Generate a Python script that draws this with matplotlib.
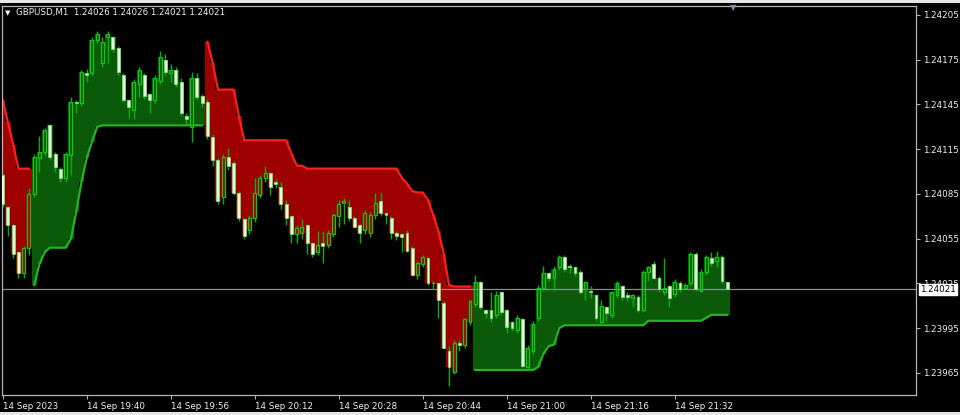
import matplotlib
matplotlib.use("Agg")
import matplotlib.pyplot as plt
import numpy as np
from matplotlib.patches import Rectangle

SYMBOL = "GBPUSD,M1"
LAST_BAR = "1.24026 1.24026 1.24021 1.24021"
LAST_PRICE = 1.24021

X_LABEL_BARS = [0, 16, 32, 48, 64, 80, 96, 112, 128]
X_LABELS = ["14 Sep 2023", "14 Sep 19:40", "14 Sep 19:56", "14 Sep 20:12", "14 Sep 20:28",
            "14 Sep 20:44", "14 Sep 21:00", "14 Sep 21:16", "14 Sep 21:32"]
Y_TICKS = [1.23965, 1.23995, 1.24025, 1.24055, 1.24085, 1.24115, 1.24145, 1.24175, 1.24205]

# M1 bars, 19:24 .. 21:42
open_ = [
    1.24098, 1.24076, 1.24064, 1.24046, 1.24032, 1.24049, 1.24085, 1.24109, 1.24113, 1.24131,
    1.24112, 1.24102, 1.24096, 1.24111, 1.24147, 1.24146, 1.24166, 1.24166, 1.24188, 1.24173,
    1.24190, 1.24190, 1.24183, 1.24165, 1.24148, 1.24141, 1.24159, 1.24165, 1.24152, 1.24148,
    1.24161, 1.24175, 1.24166, 1.24168, 1.24160, 1.24137, 1.24130, 1.24163, 1.24151, 1.24147,
    1.24123, 1.24108, 1.24083, 1.24110, 1.24106, 1.24086, 1.24068, 1.24061, 1.24069, 1.24084,
    1.24096, 1.24099, 1.24093, 1.24090, 1.24078, 1.24070, 1.24058, 1.24059, 1.24064, 1.24052,
    1.24046, 1.24052, 1.24051, 1.24058, 1.24070, 1.24079, 1.24076, 1.24069, 1.24064, 1.24061,
    1.24059, 1.24071, 1.24080, 1.24072, 1.24069, 1.24059, 1.24058, 1.24059, 1.24049, 1.24031,
    1.24038, 1.24042, 1.24025, 1.24025, 1.24012, 1.23980, 1.23966, 1.23985, 1.23984, 1.23999,
    1.24011, 1.24026, 1.24007, 1.24007, 1.24004, 1.24019, 1.24007, 1.23999, 1.23994, 1.24001,
    1.23969, 1.23980, 1.24002, 1.24022, 1.24032, 1.24029, 1.24036, 1.24043, 1.24037, 1.24036,
    1.24033, 1.24021, 1.24020, 1.24017, 1.23999, 1.24009, 1.24004, 1.24017, 1.24023, 1.24017,
    1.24015, 1.24016, 1.24007, 1.24033, 1.24038, 1.24029, 1.24019, 1.24023, 1.24018, 1.24025,
    1.24022, 1.24025, 1.24045, 1.24020, 1.24033, 1.24042, 1.24040, 1.24043, 1.24026,
]
high = [
    1.24099, 1.24077, 1.24065, 1.24047, 1.24050, 1.24089, 1.24112, 1.24124, 1.24129, 1.24132,
    1.24113, 1.24103, 1.24113, 1.24150, 1.24148, 1.24168, 1.24169, 1.24190, 1.24194, 1.24190,
    1.24194, 1.24191, 1.24184, 1.24166, 1.24149, 1.24162, 1.24170, 1.24166, 1.24153, 1.24165,
    1.24181, 1.24179, 1.24172, 1.24170, 1.24163, 1.24139, 1.24167, 1.24166, 1.24152, 1.24149,
    1.24125, 1.24109, 1.24112, 1.24116, 1.24107, 1.24087, 1.24069, 1.24071, 1.24096, 1.24098,
    1.24104, 1.24100, 1.24095, 1.24093, 1.24081, 1.24071, 1.24064, 1.24068, 1.24065, 1.24053,
    1.24060, 1.24060, 1.24061, 1.24072, 1.24081, 1.24082, 1.24081, 1.24070, 1.24065, 1.24074,
    1.24073, 1.24086, 1.24086, 1.24073, 1.24070, 1.24060, 1.24059, 1.24061, 1.24050, 1.24040,
    1.24044, 1.24043, 1.24027, 1.24026, 1.24013, 1.23983, 1.23987, 1.23987, 1.24002, 1.24014,
    1.24031, 1.24027, 1.24008, 1.24019, 1.24020, 1.24020, 1.24008, 1.24000, 1.24004, 1.24002,
    1.23984, 1.24000, 1.24024, 1.24037, 1.24033, 1.24037, 1.24044, 1.24044, 1.24038, 1.24037,
    1.24034, 1.24027, 1.24023, 1.24018, 1.24014, 1.24010, 1.24020, 1.24027, 1.24024, 1.24019,
    1.24018, 1.24017, 1.24034, 1.24037, 1.24040, 1.24030, 1.24042, 1.24024, 1.24028, 1.24027,
    1.24025, 1.24046, 1.24046, 1.24035, 1.24044, 1.24046, 1.24047, 1.24044, 1.24026,
]
low = [
    1.24076, 1.24057, 1.24042, 1.24029, 1.24029, 1.24044, 1.24083, 1.24100, 1.24111, 1.24108,
    1.24100, 1.24093, 1.24093, 1.24098, 1.24139, 1.24144, 1.24160, 1.24164, 1.24186, 1.24170,
    1.24173, 1.24180, 1.24165, 1.24147, 1.24136, 1.24135, 1.24150, 1.24149, 1.24139, 1.24146,
    1.24159, 1.24165, 1.24160, 1.24157, 1.24137, 1.24132, 1.24120, 1.24148, 1.24143, 1.24122,
    1.24104, 1.24078, 1.24078, 1.24101, 1.24084, 1.24067, 1.24055, 1.24058, 1.24066, 1.24082,
    1.24093, 1.24084, 1.24089, 1.24075, 1.24064, 1.24052, 1.24052, 1.24055, 1.24045, 1.24043,
    1.24044, 1.24039, 1.24049, 1.24056, 1.24063, 1.24065, 1.24067, 1.24062, 1.24052, 1.24058,
    1.24056, 1.24068, 1.24070, 1.24065, 1.24055, 1.24054, 1.24046, 1.24046, 1.24030, 1.24028,
    1.24036, 1.24024, 1.24021, 1.24002, 1.23981, 1.23956, 1.23964, 1.23980, 1.23982, 1.23997,
    1.24009, 1.24008, 1.24002, 1.23999, 1.24002, 1.24004, 1.23992, 1.23993, 1.23992, 1.23969,
    1.23967, 1.23978, 1.24000, 1.24020, 1.24027, 1.24020, 1.24034, 1.24033, 1.24032, 1.24030,
    1.24018, 1.24014, 1.24015, 1.24000, 1.23997, 1.24000, 1.24002, 1.24015, 1.24014, 1.24013,
    1.24009, 1.24006, 1.24006, 1.24027, 1.24028, 1.24019, 1.24017, 1.24009, 1.24016, 1.24019,
    1.24021, 1.24023, 1.24020, 1.24019, 1.24031, 1.24037, 1.24036, 1.24025, 1.24021,
]
close = [
    1.24078, 1.24064, 1.24045, 1.24032, 1.24049, 1.24085, 1.24110, 1.24113, 1.24128, 1.24110,
    1.24103, 1.24096, 1.24112, 1.24147, 1.24146, 1.24167, 1.24165, 1.24188, 1.24192, 1.24187,
    1.24192, 1.24182, 1.24167, 1.24148, 1.24143, 1.24160, 1.24168, 1.24151, 1.24148, 1.24163,
    1.24177, 1.24167, 1.24168, 1.24159, 1.24139, 1.24135, 1.24163, 1.24150, 1.24146, 1.24124,
    1.24108, 1.24080, 1.24110, 1.24104, 1.24086, 1.24069, 1.24057, 1.24069, 1.24086, 1.24096,
    1.24099, 1.24090, 1.24092, 1.24078, 1.24069, 1.24058, 1.24062, 1.24063, 1.24052, 1.24045,
    1.24051, 1.24050, 1.24059, 1.24071, 1.24078, 1.24080, 1.24069, 1.24063, 1.24059, 1.24072,
    1.24071, 1.24079, 1.24072, 1.24071, 1.24059, 1.24057, 1.24056, 1.24047, 1.24031, 1.24039,
    1.24043, 1.24025, 1.24025, 1.24014, 1.23982, 1.23969, 1.23985, 1.23984, 1.24001, 1.24013,
    1.24026, 1.24009, 1.24005, 1.24002, 1.24017, 1.24006, 1.23996, 1.23995, 1.24002, 1.23970,
    1.23982, 1.23998, 1.24022, 1.24032, 1.24029, 1.24035, 1.24043, 1.24035, 1.24036, 1.24032,
    1.24019, 1.24026, 1.24019, 1.24002, 1.24010, 1.24005, 1.24019, 1.24025, 1.24016, 1.24016,
    1.24017, 1.24007, 1.24033, 1.24036, 1.24029, 1.24021, 1.24022, 1.24015, 1.24026, 1.24021,
    1.24024, 1.24045, 1.24021, 1.24033, 1.24043, 1.24039, 1.24043, 1.24027, 1.24021,
]
# trailing stop of the indicator (above price = down trend, below = up trend)
stop = [
    1.24148, 1.24133, 1.24118, 1.24102, 1.24102, 1.24102, 1.24024, 1.24038, 1.24046, 1.24049,
    1.24049, 1.24049, 1.24049, 1.24055, 1.24073, 1.24093, 1.24109, 1.24120, 1.24130, 1.24131,
    1.24131, 1.24131, 1.24131, 1.24131, 1.24131, 1.24131, 1.24131, 1.24131, 1.24131, 1.24131,
    1.24131, 1.24131, 1.24131, 1.24131, 1.24131, 1.24131, 1.24131, 1.24131, 1.24131, 1.24187,
    1.24173, 1.24155, 1.24155, 1.24155, 1.24155, 1.24137, 1.24121, 1.24121, 1.24121, 1.24121,
    1.24121, 1.24121, 1.24121, 1.24121, 1.24121, 1.24112, 1.24104, 1.24104, 1.24102, 1.24102,
    1.24102, 1.24102, 1.24102, 1.24102, 1.24102, 1.24102, 1.24102, 1.24102, 1.24102, 1.24102,
    1.24102, 1.24102, 1.24102, 1.24102, 1.24102, 1.24102, 1.24096, 1.24092, 1.24087, 1.24086,
    1.24086, 1.24081, 1.24071, 1.24060, 1.24045, 1.24024, 1.24023, 1.24023, 1.24023, 1.24023,
    1.23967, 1.23967, 1.23967, 1.23967, 1.23967, 1.23967, 1.23967, 1.23967, 1.23967, 1.23967,
    1.23967, 1.23967, 1.23969, 1.23978, 1.23983, 1.23984, 1.23995, 1.23997, 1.23997, 1.23997,
    1.23997, 1.23997, 1.23997, 1.23997, 1.23997, 1.23997, 1.23997, 1.23997, 1.23997, 1.23997,
    1.23997, 1.23997, 1.23997, 1.24000, 1.24000, 1.24000, 1.24000, 1.24000, 1.24000, 1.24000,
    1.24000, 1.24000, 1.24000, 1.24000, 1.24002, 1.24004, 1.24004, 1.24004, 1.24004,
]

BG = "#000000"
RED_FILL = "#9E0000"
RED_LINE = "#FF1E1E"
GREEN_FILL = "#0A5A0A"
GREEN_LINE = "#22B422"
WICK = "#00B400"
BEAR_BODY = "#E6FCDA"
TEXT = "#F0F0F0"

o = np.array(open_)
h = np.array(high)
l = np.array(low)
c = np.array(close)
s = np.array(stop)
x = np.arange(len(o))
down = s > c

W, H = 960, 415
fig = plt.figure(figsize=(W / 100, H / 100), dpi=100, facecolor=BG)
ax = fig.add_axes([2 / W, 20 / H, 914 / W, 389 / H], facecolor=BG)

# indicator histogram between stop and candle body
body_top = np.maximum(o, c)
body_bot = np.minimum(o, c)
fill_lo = np.where(down, body_bot, s)
fill_hi = np.where(down, s, body_top)
fill_col = np.where(down, RED_FILL, GREEN_FILL)
ax.bar(x, fill_hi - fill_lo, bottom=fill_lo, width=1.02, color=fill_col,
       linewidth=0, antialiased=False, zorder=1)

ax.plot(x, np.where(down, s, np.nan), color=RED_LINE, lw=1.6, zorder=2)
ax.plot(x, np.where(~down, s, np.nan), color=GREEN_LINE, lw=1.6, zorder=2)

ax.axhline(LAST_PRICE, color="#8C8C8C", lw=0.9, zorder=2.5)

# candles
ax.vlines(x, body_top, h, color=WICK, lw=1.0, zorder=3)
ax.vlines(x, l, body_bot, color=WICK, lw=1.0, zorder=3)
bull = c > o
size = np.maximum(body_top - body_bot, 0.000004)
ax.bar(x[bull], size[bull], bottom=body_bot[bull], width=0.55, facecolor="none",
       edgecolor="#10C810", linewidth=0.9, zorder=4)
ax.bar(x[~bull], size[~bull], bottom=body_bot[~bull], width=0.55, facecolor=BEAR_BODY,
       edgecolor="#7CD87C", linewidth=0.6, zorder=4)

ax.set_xlim(-0.13, 173.96)
ax.set_ylim(1.2395025, 1.2421103)

for sp in ax.spines.values():
    sp.set_color("#B4B4B4")
    sp.set_linewidth(0.9)

ax.yaxis.tick_right()
ax.set_yticks(Y_TICKS)
ax.set_yticklabels([f"{v:.5f}" for v in Y_TICKS])
ax.set_xticks(X_LABEL_BARS)
ax.set_xticklabels(X_LABELS)
for lab in ax.get_xticklabels():
    lab.set_horizontalalignment("left")
ax.tick_params(axis="y", colors="#B4B4B4", labelcolor=TEXT, length=3, width=0.8,
               pad=2, labelsize=6.3)
ax.tick_params(axis="x", colors="#B4B4B4", labelcolor=TEXT, length=3, width=0.8,
               pad=2, labelsize=6.3)

# last price marker covers the tick label under it, as in the terminal
ax.annotate(f"{LAST_PRICE:.5f}", xy=(1.0, LAST_PRICE), xycoords=("axes fraction", "data"),
            xytext=(3, 0), textcoords="offset points", ha="left", va="center",
            fontsize=6.3, color="black", annotation_clip=False, zorder=10,
            bbox=dict(boxstyle="square,pad=0.15", facecolor="white", edgecolor="white"))

fig.text(8 / W, 1 - 13 / H, "\u25bc", color=TEXT, fontsize=5, ha="center", va="center")
fig.text(16 / W, 1 - 13 / H, f"{SYMBOL}  {LAST_BAR}", color=TEXT, fontsize=6.3,
         ha="left", va="center")
fig.text(733 / W, 1 - 8 / H, "\u25bc", color="#7F8FA6", fontsize=6, ha="center", va="center")

fig.add_artist(Rectangle((0, 1 - 3 / H), 1, 3 / H, transform=fig.transFigure,
                         facecolor="#E6E6E6", edgecolor="none"))
fig.add_artist(Rectangle((0, 0), 1, 3 / H, transform=fig.transFigure,
                         facecolor="#E6E6E6", edgecolor="none"))

fig.savefig("out.png", dpi=100, facecolor=BG)
